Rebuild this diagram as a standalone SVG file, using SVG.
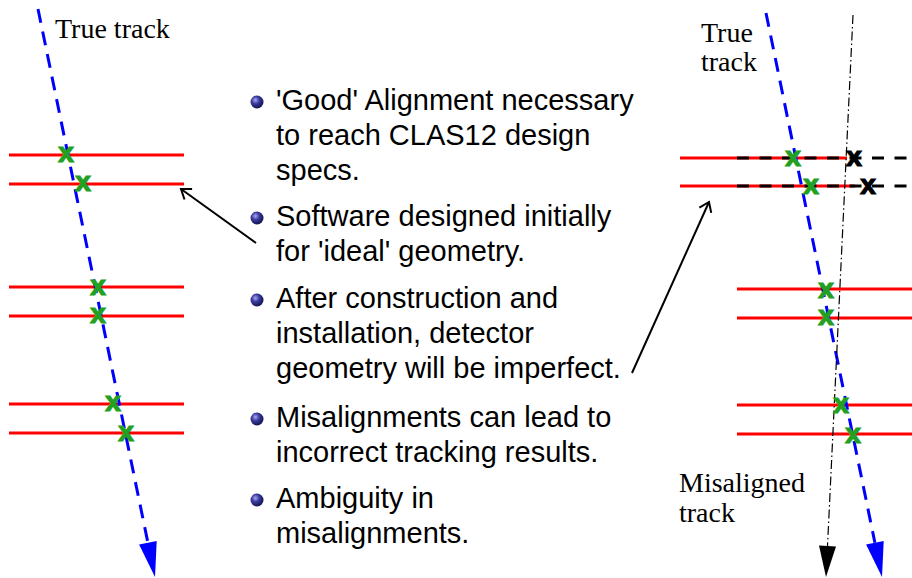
<svg xmlns="http://www.w3.org/2000/svg" width="912" height="578" viewBox="0 0 912 578">
<style>
.bg{fill:#ffffff}
.red{stroke:#ff0000;stroke-width:3;fill:none}
.blk-dash{stroke:#000000;stroke-width:3;stroke-dasharray:12 10.5;fill:none}
.blue{stroke:#0000ff;stroke-width:3;stroke-dasharray:14 9;fill:none}
.dashdot{stroke:#000000;stroke-width:1.2;stroke-dasharray:9 3 1.5 3;fill:none}
.ptr{stroke:#000000;stroke-width:2;fill:none}
.serif{font-family:"Liberation Serif","Times New Roman",serif;font-size:28px;fill:#000000}
.sans{font-family:"Liberation Sans",Arial,sans-serif;font-size:29px;fill:#000000}
.hitg{font-family:"Liberation Sans",Arial,sans-serif;font-weight:bold;font-size:28px;fill:#22a022;stroke:#22a022;stroke-width:1.2;text-anchor:middle}
.hitk{font-family:"Liberation Sans",Arial,sans-serif;font-weight:bold;font-size:28px;fill:#000000;stroke:#000000;stroke-width:1.2;text-anchor:middle}
</style>
<defs>
<radialGradient id="ball" cx="0.38" cy="0.35" r="0.65">
<stop offset="0" stop-color="#a8a8ee"/>
<stop offset="0.45" stop-color="#3a3aa0"/>
<stop offset="1" stop-color="#141450"/>
</radialGradient>
<marker id="chev" markerUnits="userSpaceOnUse" markerWidth="20" markerHeight="20" refX="10" refY="10" orient="auto" overflow="visible">
<path d="M1,3.5 L10,10 L1,16.5" fill="none" stroke="#000" stroke-width="2"/>
</marker>
</defs>
<rect class="bg" x="0" y="0" width="912" height="578"/>

<g id="left-panel">
<g id="left-planes">
<line class="red" x1="9" y1="155" x2="184" y2="155"/>
<line class="red" x1="9" y1="184" x2="184" y2="184"/>
<line class="red" x1="9" y1="287" x2="184" y2="287"/>
<line class="red" x1="9" y1="316" x2="184" y2="316"/>
<line class="red" x1="9" y1="404" x2="184" y2="404"/>
<line class="red" x1="9" y1="433" x2="184" y2="433"/>
</g>
<g id="left-true-track">
<line class="blue" x1="38" y1="9" x2="147.9" y2="542.7"/>
<polygon points="155,577 156.7,540.9 139.1,544.5" fill="#0000ff"/>
<text class="serif" x="55" y="38">True track</text>
</g>
<g id="left-hits">
<text class="hitg" x="66" y="162">x</text>
<text class="hitg" x="83" y="191">x</text>
<text class="hitg" x="98" y="295">x</text>
<text class="hitg" x="98" y="323">x</text>
<text class="hitg" x="113" y="411">x</text>
<text class="hitg" x="126" y="441">x</text>
</g>
</g>

<g id="bullets">
<g id="item1">
<circle cx="257" cy="102" r="6.5" fill="url(#ball)"/>
<text class="sans" x="276" y="110">'Good' Alignment necessary</text>
<text class="sans" x="276" y="145">to reach CLAS12 design</text>
<text class="sans" x="276" y="180">specs.</text>
</g>
<g id="item2">
<circle cx="257" cy="218" r="6.5" fill="url(#ball)"/>
<text class="sans" x="276" y="226">Software designed initially</text>
<text class="sans" x="276" y="261">for 'ideal' geometry.</text>
</g>
<g id="item3">
<circle cx="257" cy="300" r="6.5" fill="url(#ball)"/>
<text class="sans" x="276" y="308">After construction and</text>
<text class="sans" x="276" y="343">installation, detector</text>
<text class="sans" x="276" y="378">geometry will be imperfect.</text>
</g>
<g id="item4">
<circle cx="257" cy="419" r="6.5" fill="url(#ball)"/>
<text class="sans" x="276" y="427">Misalignments can lead to</text>
<text class="sans" x="276" y="462">incorrect tracking results.</text>
</g>
<g id="item5">
<circle cx="257" cy="500" r="6.5" fill="url(#ball)"/>
<text class="sans" x="276" y="508">Ambiguity in</text>
<text class="sans" x="276" y="543">misalignments.</text>
</g>
</g>

<g id="right-panel">
<g id="right-planes">
<line class="red" x1="680" y1="158" x2="847" y2="158"/>
<line class="red" x1="680" y1="186" x2="855" y2="186"/>
<line class="blk-dash" x1="737" y1="158" x2="912" y2="158"/>
<line class="blk-dash" x1="737" y1="186" x2="912" y2="186"/>
<line class="red" x1="737" y1="289" x2="912" y2="289"/>
<line class="red" x1="737" y1="318" x2="912" y2="318"/>
<line class="red" x1="737" y1="405" x2="912" y2="405"/>
<line class="red" x1="737" y1="434" x2="912" y2="434"/>
</g>
<g id="right-true-track">
<line class="blue" x1="766" y1="13" x2="874.9" y2="542.7"/>
<polygon points="882,577 883.7,540.9 866.1,544.5" fill="#0000ff"/>
<text class="serif" x="701" y="42">True</text>
<text class="serif" x="701" y="71">track</text>
</g>
<g id="misaligned-track">
<line class="dashdot" x1="853" y1="15" x2="827.5" y2="546"/>
<polygon points="826,577 836,546.4 819,545.6" fill="#000000"/>
<text class="serif" x="679" y="492">Misaligned</text>
<text class="serif" x="679" y="522">track</text>
</g>
<g id="right-hits">
<text class="hitg" x="793" y="166">x</text>
<text class="hitg" x="811" y="194">x</text>
<text class="hitg" x="826" y="298">x</text>
<text class="hitg" x="826" y="325">x</text>
<text class="hitg" x="841" y="413">x</text>
<text class="hitg" x="853" y="443">x</text>
<text class="hitk" x="854" y="166">x</text>
<text class="hitk" x="868" y="194">x</text>
</g>
</g>

<g id="connectors">
<line class="ptr" x1="256" y1="243" x2="181" y2="189" marker-end="url(#chev)"/>
<line class="ptr" x1="632" y1="373" x2="709" y2="202" marker-end="url(#chev)"/>
</g>
</svg>
